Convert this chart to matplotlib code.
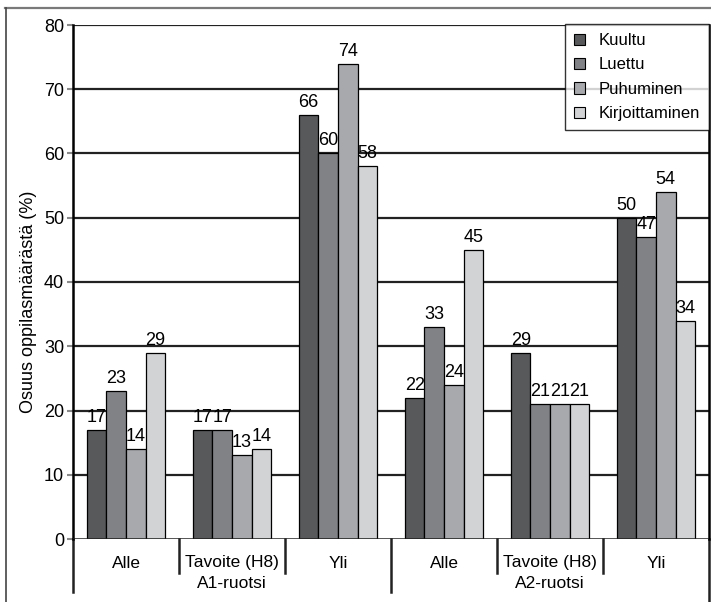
import matplotlib
matplotlib.use("Agg")
import matplotlib.pyplot as plt
from matplotlib.lines import Line2D
from matplotlib.patches import Patch
import numpy as np

plt.rcParams['font.family'] = ['Liberation Sans', 'DejaVu Sans']

# Data
levels = ["Alle", "Tavoite (H8)", "Yli", "Alle", "Tavoite (H8)", "Yli"]
groups = ["A1-ruotsi", "A2-ruotsi"]
series = ["Kuultu", "Luettu", "Puhuminen", "Kirjoittaminen"]
kuultu = [17, 17, 66, 22, 29, 50]
luettu = [23, 17, 60, 33, 21, 47]
puhuminen = [14, 13, 74, 24, 21, 54]
kirjoittaminen = [29, 14, 58, 45, 21, 34]
values = [kuultu, luettu, puhuminen, kirjoittaminen]
colors = ["#58595b", "#808285", "#a7a9ac", "#d1d3d4"]
yticks = [0, 10, 20, 30, 40, 50, 60, 70, 80]

W, H = 711, 602
fig = plt.figure(figsize=(W / 100, H / 100), dpi=100)
left, right, top, bottom = 73, 709, 25, 539
ax = fig.add_axes([left / W, 1 - bottom / H, (right - left) / W, (bottom - top) / H])

x = np.arange(len(levels))
bw = 0.184
for i, (vals, col) in enumerate(zip(values, colors)):
    xs = x + (i - 1.5) * bw
    ax.bar(xs, vals, width=bw, color=col, edgecolor="black", linewidth=0.9, zorder=3)
    for xi, v in zip(xs, vals):
        ax.annotate(f"{v}", (xi, v), xytext=(0, 9), textcoords="offset points",
                    ha="center", va="center", fontsize=13, zorder=4)

ax.set_xlim(-0.5, len(levels) - 0.5)
ax.set_ylim(0, 80)
ax.set_yticks(yticks)
ax.tick_params(axis="y", length=4.5, width=1.5, color="#8a8a8a", labelsize=13, pad=2)
ax.set_xticks([])
for yv in yticks[1:]:
    ax.axhline(yv, color="#222222", linewidth=1.6, zorder=1)

for s in ["top", "bottom"]:
    ax.spines[s].set_visible(False)
ax.spines["left"].set_linewidth(1.8)
ax.spines["right"].set_linewidth(1.8)
ax.axhline(0, color="#222222", linewidth=1.8, zorder=5)

ax.set_ylabel("Osuus oppilasmäärästä (%)", fontsize=13)
ax.yaxis.set_label_coords(-(left - 37) / (right - left), (bottom - 302) / (bottom - top))

# Category axis below the plot
ph = bottom - top
tr = ax.get_xaxis_transform()
y_lvl = -(563 - bottom) / ph
y_grp = -(583 - bottom) / ph
y_short = -(573 - bottom) / ph
y_long = -(592 - bottom) / ph
y_edge = -(602 - bottom) / ph
for xi, lab in zip(x, levels):
    ax.text(xi, y_lvl, lab, transform=tr, ha="center", va="center", fontsize=12.5)
for gi, g in enumerate(groups):
    ax.text(gi * 3 + 1, y_grp, g, transform=tr, ha="center", va="center", fontsize=12.5)
for b in [0.5, 1.5, 3.5, 4.5]:
    ax.add_line(Line2D([b, b], [0, y_short], transform=tr, color="#222222",
                       linewidth=1.8, clip_on=False))
for b, yb in [(-0.5, y_long), (2.5, y_long), (5.5, y_edge)]:
    ax.add_line(Line2D([b, b], [0, yb], transform=tr, color="#222222",
                       linewidth=1.8, clip_on=False))

# Legend
handles = [Patch(facecolor=c, edgecolor="black", linewidth=0.8, label=s)
           for c, s in zip(colors, series)]
leg = ax.legend(handles=handles, loc="upper right", bbox_to_anchor=(1.0, 1.002),
                borderaxespad=0, fontsize=12, frameon=True, fancybox=False,
                handlelength=0.65, handleheight=0.65, handletextpad=0.8,
                labelspacing=0.56, borderpad=0.55)
leg.get_frame().set_edgecolor("black")
leg.get_frame().set_linewidth(1.0)
leg.set_zorder(6)

# Outer frame lines
fig.add_artist(Line2D([5 / W, 1], [1 - 8 / H, 1 - 8 / H], color="#7a7a7a", linewidth=1.6))
fig.add_artist(Line2D([6 / W, 6 / W], [0, 1 - 8 / H], color="#444444", linewidth=1.2))

fig.savefig("out.png", dpi=100)
